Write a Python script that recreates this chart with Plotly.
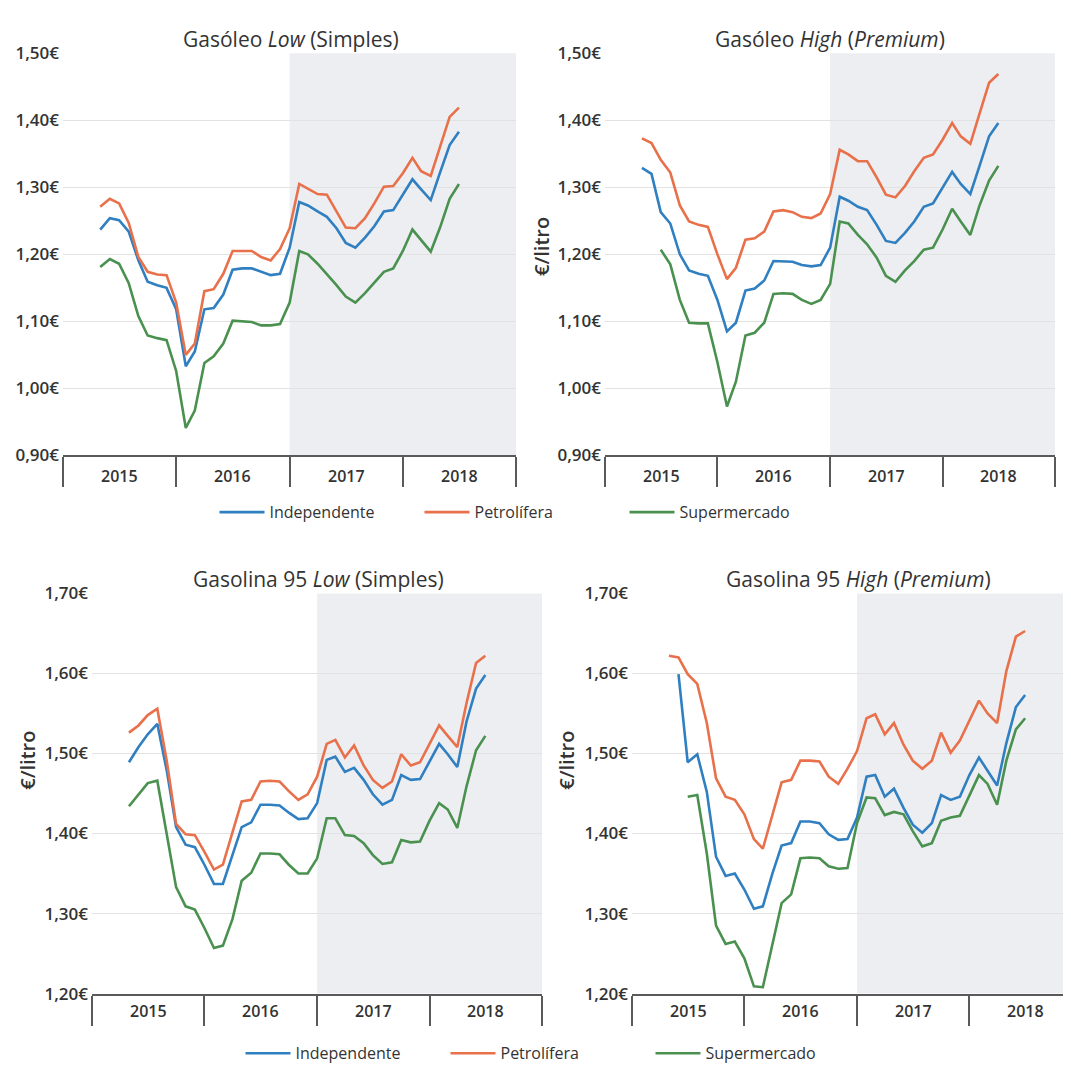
import pandas as pd
import plotly.graph_objects as go

# ---------------- data ----------------
months = pd.date_range("2015-05-01", "2018-07-01", freq="MS")
series_names = ["Independente", "Petrolífera", "Supermercado"]
series_colors = ["#2f7fc1", "#e8704a", "#4a9150"]

gasoleo_low_ind = [1.237, 1.254, 1.251, 1.234, 1.191, 1.159, 1.154, 1.150, 1.118, 1.033,
                   1.055, 1.118, 1.120, 1.140, 1.177, 1.179, 1.179, 1.174, 1.169, 1.171,
                   1.210, 1.278, 1.273, 1.264, 1.256, 1.239, 1.217, 1.210, 1.225, 1.242,
                   1.264, 1.266, 1.288, 1.312, 1.297, 1.281, 1.322, 1.363, 1.383]
gasoleo_low_pet = [1.271, 1.283, 1.276, 1.247, 1.196, 1.174, 1.170, 1.169, 1.128, 1.050,
                   1.067, 1.145, 1.148, 1.171, 1.205, 1.205, 1.205, 1.196, 1.191, 1.208,
                   1.239, 1.305, 1.298, 1.290, 1.289, 1.264, 1.240, 1.239, 1.254, 1.276,
                   1.301, 1.302, 1.321, 1.344, 1.324, 1.317, 1.361, 1.405, 1.419]
gasoleo_low_sup = [1.181, 1.193, 1.186, 1.157, 1.108, 1.079, 1.075, 1.072, 1.026, 0.941,
                   0.967, 1.038, 1.048, 1.067, 1.101, 1.100, 1.099, 1.094, 1.094, 1.096,
                   1.128, 1.205, 1.200, 1.186, 1.171, 1.154, 1.137, 1.128, 1.142, 1.157,
                   1.174, 1.179, 1.205, 1.237, 1.222, 1.204, 1.240, 1.283, 1.305]

gasoleo_high_ind = [1.329, 1.320, 1.263, 1.246, 1.200, 1.176, 1.171, 1.168, 1.132, 1.085,
                    1.098, 1.146, 1.149, 1.161, 1.190, 1.190, 1.189, 1.184, 1.182, 1.184,
                    1.210, 1.286, 1.280, 1.271, 1.266, 1.244, 1.220, 1.217, 1.232, 1.249,
                    1.271, 1.276, 1.299, 1.323, 1.305, 1.290, 1.332, 1.376, 1.396]
gasoleo_high_pet = [1.373, 1.366, 1.341, 1.322, 1.273, 1.249, 1.244, 1.241, 1.200, 1.163,
                    1.180, 1.222, 1.224, 1.234, 1.264, 1.266, 1.263, 1.256, 1.254, 1.261,
                    1.290, 1.356, 1.349, 1.339, 1.339, 1.315, 1.289, 1.285, 1.302, 1.324,
                    1.344, 1.349, 1.371, 1.396, 1.376, 1.365, 1.410, 1.456, 1.469]
gasoleo_high_sup = [None, None, 1.207, 1.185, 1.132, 1.098, 1.097, 1.097, 1.039, 0.973,
                    1.010, 1.079, 1.083, 1.098, 1.141, 1.142, 1.141, 1.132, 1.126, 1.132,
                    1.156, 1.249, 1.246, 1.229, 1.215, 1.195, 1.168, 1.159, 1.176, 1.190,
                    1.207, 1.210, 1.237, 1.268, 1.249, 1.229, 1.273, 1.310, 1.332]

gasolina_low_ind = [1.489, 1.508, 1.524, 1.537, 1.478, 1.408, 1.386, 1.383, 1.361, 1.337,
                    1.337, 1.373, 1.408, 1.414, 1.436, 1.436, 1.435, 1.426, 1.418, 1.419,
                    1.438, 1.492, 1.496, 1.477, 1.482, 1.467, 1.449, 1.436, 1.442, 1.473,
                    1.467, 1.468, 1.491, 1.512, 1.499, 1.483, 1.540, 1.581, 1.598]
gasolina_low_pet = [1.526, 1.535, 1.548, 1.556, 1.490, 1.412, 1.399, 1.398, 1.377, 1.355,
                    1.361, 1.402, 1.440, 1.442, 1.465, 1.466, 1.465, 1.453, 1.442, 1.449,
                    1.471, 1.512, 1.517, 1.495, 1.510, 1.485, 1.467, 1.457, 1.465, 1.499,
                    1.485, 1.489, 1.512, 1.535, 1.522, 1.508, 1.563, 1.613, 1.622]
gasolina_low_sup = [1.434, 1.449, 1.463, 1.466, 1.398, 1.333, 1.309, 1.305, 1.282, 1.257,
                    1.260, 1.293, 1.341, 1.351, 1.375, 1.375, 1.374, 1.361, 1.350, 1.350,
                    1.369, 1.419, 1.419, 1.398, 1.397, 1.388, 1.373, 1.362, 1.364, 1.392,
                    1.389, 1.390, 1.416, 1.438, 1.430, 1.407, 1.459, 1.504, 1.522]

gasolina_high_ind = [None, 1.599, 1.489, 1.499, 1.452, 1.371, 1.347, 1.350, 1.330, 1.306,
                     1.309, 1.350, 1.385, 1.388, 1.415, 1.415, 1.413, 1.399, 1.392, 1.393,
                     1.420, 1.471, 1.473, 1.446, 1.456, 1.432, 1.411, 1.401, 1.413, 1.448,
                     1.442, 1.446, 1.473, 1.495, 1.479, 1.460, 1.513, 1.558, 1.573]
gasolina_high_pet = [1.622, 1.620, 1.599, 1.587, 1.538, 1.469, 1.446, 1.442, 1.424, 1.393,
                     1.381, 1.424, 1.464, 1.467, 1.491, 1.491, 1.490, 1.471, 1.462, 1.481,
                     1.503, 1.544, 1.549, 1.524, 1.538, 1.511, 1.491, 1.481, 1.491, 1.526,
                     1.501, 1.516, 1.542, 1.566, 1.550, 1.538, 1.603, 1.646, 1.653]
gasolina_high_sup = [None, None, 1.446, 1.448, 1.375, 1.285, 1.262, 1.265, 1.244, 1.209,
                     1.208, 1.260, 1.313, 1.324, 1.369, 1.370, 1.369, 1.359, 1.356, 1.357,
                     1.413, 1.445, 1.444, 1.423, 1.427, 1.424, 1.403, 1.384, 1.388, 1.416,
                     1.420, 1.422, 1.448, 1.473, 1.462, 1.436, 1.491, 1.530, 1.544]

panel_titles = ["Gasóleo <i>Low</i> (Simples)", "Gasóleo <i>High</i> (<i>Premium</i>)",
                "Gasolina 95 <i>Low</i> (Simples)", "Gasolina 95 <i>High</i> (<i>Premium</i>)"]
year_labels = ["2015", "2016", "2017", "2018"]
ticks_top = [0.90, 1.00, 1.10, 1.20, 1.30, 1.40, 1.50]
ticks_bottom = [1.20, 1.30, 1.40, 1.50, 1.60, 1.70]
y_title = "€/litro"

# ---------------- layout ----------------
# The page body has a default 8px margin, so the figure is drawn 8px in from the
# window's corner; positions below are window pixels and are converted.
OFF = 8
W, H = 1071 - OFF, 1077 - OFF
FONT = "Open Sans"
DARK = "#333333"
AXIS = "#5a5a5a"
SHADE = "#eceef1"


def px_x(v):
    return (v - OFF) / W


def px_y(v):
    return 1 - (v - OFF) / H


panels = [
    dict(data=[gasoleo_low_ind, gasoleo_low_pet, gasoleo_low_sup],
         xpx=(63, 516), ypx=(42, 453), yr=(0.90, 1.50), ticks=ticks_top,
         xend="2019-01-01", title_x=291, title_y=27, year_y=474, ytitle=None, legend="legend"),
    dict(data=[gasoleo_high_ind, gasoleo_high_pet, gasoleo_high_sup],
         xpx=(605, 1055), ypx=(42, 453), yr=(0.90, 1.50), ticks=ticks_top,
         xend="2019-01-01", title_x=830, title_y=27, year_y=474, ytitle=(541, 240), legend=None),
    dict(data=[gasolina_low_ind, gasolina_low_pet, gasolina_low_sup],
         xpx=(92, 542), ypx=(594, 1003), yr=(1.20, 1.70), ticks=ticks_bottom,
         xend="2019-01-01", title_x=318, title_y=579, year_y=1021, ytitle=(28, 765), legend="legend2"),
    dict(data=[gasolina_high_ind, gasolina_high_pet, gasolina_high_sup],
         xpx=(632, 1071), ypx=(594, 1003), yr=(1.20, 1.70), ticks=ticks_bottom,
         xend="2018-11-27", title_x=858, title_y=579, year_y=1021, ytitle=(567, 765), legend=None),
]

fig = go.Figure()
layout = dict(width=W, height=H, margin=dict(l=0, r=0, t=0, b=0),
              paper_bgcolor="white", plot_bgcolor="white",
              font=dict(family=FONT, color=DARK), showlegend=True)
annotations = []
shapes = []

for k, p in enumerate(panels, start=1):
    xs = "" if k == 1 else str(k)
    xa, ya = "x" + xs, "y" + xs
    for name, color, vals in zip(series_names, series_colors, p["data"]):
        tr = dict(x=months, y=vals, mode="lines", name=name,
                  line=dict(color=color, width=2.6), xaxis=xa, yaxis=ya,
                  showlegend=p["legend"] is not None, hoverinfo="skip")
        if p["legend"]:
            tr["legend"] = p["legend"]
        fig.add_trace(go.Scatter(**tr))
    xd = [max(0.0, px_x(p["xpx"][0])), min(1.0, px_x(p["xpx"][1]))]
    yd = [max(0.0, px_y(p["ypx"][1])), min(1.0, px_y(p["ypx"][0]))]
    layout["xaxis" + xs] = dict(
        type="date", domain=xd, range=["2015-01-01", p["xend"]], anchor=ya,
        showgrid=False, zeroline=False, showline=True, linecolor=AXIS, linewidth=2,
        ticks="outside", ticklen=30, tickwidth=1.6, tickcolor=AXIS,
        tickmode="array", tickvals=[f"{y}-01-01" for y in range(2015, 2020)],
        showticklabels=False, fixedrange=True)
    layout["yaxis" + xs] = dict(
        domain=yd, range=list(p["yr"]), anchor=xa, zeroline=False, showline=False,
        showgrid=True, gridcolor="#e2e2e2", gridwidth=1,
        tickmode="array", tickvals=p["ticks"],
        ticktext=[f"{t:.2f}".replace(".", ",") + "€" for t in p["ticks"]],
        tickfont=dict(size=17, color=DARK, family=FONT, weight=600),
        ticks="", ticklabelstandoff=3, fixedrange=True)
    shapes.append(dict(type="rect", xref=xa, yref=ya + " domain",
                       x0="2017-01-01", x1=p["xend"], y0=0, y1=1,
                       fillcolor=SHADE, line=dict(width=0), layer="below"))
    annotations.append(dict(text=panel_titles[k - 1], xref="paper", yref="paper",
                            x=px_x(p["title_x"]), y=px_y(p["title_y"]), showarrow=False,
                            xanchor="center", yanchor="middle",
                            font=dict(size=21, color=DARK, family=FONT)))
    for yl in year_labels:
        annotations.append(dict(text=yl, xref=xa, yref="paper", x=f"{yl}-07-02",
                                y=px_y(p["year_y"]), showarrow=False,
                                xanchor="center", yanchor="middle",
                                font=dict(size=16, color=DARK, family=FONT, weight=600)))
    if p["ytitle"]:
        annotations.append(dict(text=y_title, xref="paper", yref="paper",
                                x=px_x(p["ytitle"][0]), y=px_y(p["ytitle"][1]),
                                textangle=-90, showarrow=False,
                                xanchor="center", yanchor="middle",
                                font=dict(size=20, color=DARK, family=FONT, weight=600)))

leg_common = dict(orientation="h", xanchor="center", yanchor="middle",
                  font=dict(size=16, color=DARK, family=FONT, weight=500),
                  bgcolor="rgba(0,0,0,0)", itemwidth=45, entrywidth=145,
                  entrywidthmode="pixels", tracegroupgap=0)
layout["legend"] = dict(x=px_x(522), y=px_y(511), **leg_common)
layout["legend2"] = dict(x=px_x(548), y=px_y(1064), **leg_common)
layout["annotations"] = annotations
layout["shapes"] = shapes
fig.update_layout(**layout)

fig.write_html("out.html")
